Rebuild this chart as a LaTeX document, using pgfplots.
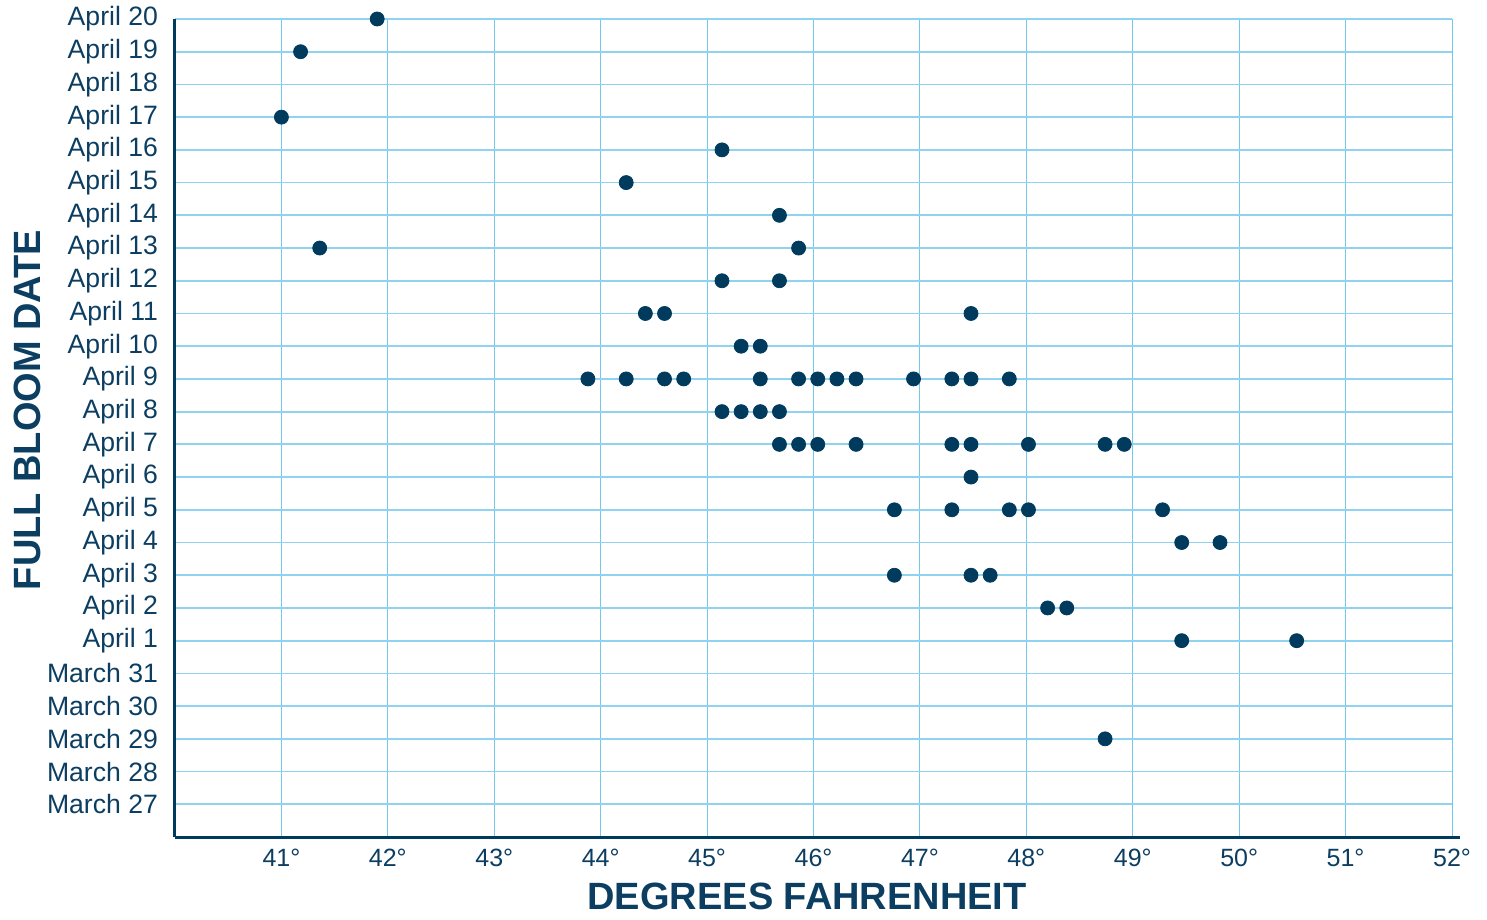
\documentclass[border=0pt]{standalone}
\usepackage{pgfplots}
\pgfplotsset{compat=1.18}
\usepackage{fontspec}
\setmainfont{Liberation Sans}
\definecolor{navy}{RGB}{0,58,93}
\definecolor{txt}{RGB}{12,62,98}
\definecolor{gridblue}{RGB}{115,200,236}
\begin{document}
\begin{tikzpicture}
\begin{axis}[
  name=ax,
  scale only axis,
  width=638.5pt, height=409pt,
  xmin=40, xmax=52, ymin=0, ymax=25,
  axis x line=bottom, axis y line=left,
  axis line style={navy, line width=1.5pt, -},
  x axis line style={shorten >=-4pt},
  xtick={41,...,52},
  xticklabels={41°,42°,43°,44°,45°,46°,47°,48°,49°,50°,51°,52°},
  ytick={1,...,25},
  yticklabels={March 27,March 28,March 29,March 30,March 31,April 1,April 2,April 3,April 4,April 5,April 6,April 7,April 8,April 9,April 10,April 11,April 12,April 13,April 14,April 15,April 16,April 17,April 18,April 19,April 20},
  major tick length=0pt,
  xticklabel style={font=\fontsize{12.5}{14}\selectfont, text=txt, yshift=-2.5pt},
  yticklabel style={font=\fontsize{13.3}{15}\selectfont, text=txt, xshift=-5pt},
  xmajorgrids, ymajorgrids,
  x grid style={gridblue, line width=0.5pt},
  y grid style={gridblue!80, line width=0.9pt},
  xlabel={DEGREES FAHRENHEIT},
  ylabel={FULL BLOOM DATE},
  label style={font=\fontsize{19}{22}\selectfont\bfseries, text=txt},
  xlabel style={at={(axis description cs:0.495,-0.089)}, anchor=base, inner sep=0pt},
  ylabel style={at={(axis description cs:-0.1159,0.522)}, anchor=center},
  clip=false,
]
\addplot[only marks, mark=*, mark size=3.5pt, navy, mark options={draw=navy, fill=navy}] coordinates {
(41.9,25)
(41.18,24)
(41.0,22)
(45.14,21)
(44.24,20)
(45.68,19)
(41.36,18) (45.86,18)
(45.14,17) (45.68,17)
(44.42,16) (44.6,16) (47.48,16)
(45.32,15) (45.5,15)
(43.88,14) (44.24,14) (44.6,14) (44.78,14) (45.5,14) (45.86,14) (46.04,14) (46.22,14) (46.4,14) (46.94,14) (47.3,14) (47.48,14) (47.84,14)
(45.14,13) (45.32,13) (45.5,13) (45.68,13)
(45.68,12) (45.86,12) (46.04,12) (46.4,12) (47.3,12) (47.48,12) (48.02,12) (48.74,12) (48.92,12)
(47.48,11)
(46.76,10) (47.3,10) (47.84,10) (48.02,10) (49.28,10)
(49.46,9) (49.82,9)
(46.76,8) (47.48,8) (47.66,8)
(48.2,7) (48.38,7)
(49.46,6) (50.54,6)
(48.74,3)
};
\end{axis}
\pgfresetboundingbox
\path[use as bounding box] ([xshift=-87.5pt,yshift=-41.5pt]ax.south west) rectangle ([xshift=17.5pt,yshift=9.5pt]ax.north east);
\end{tikzpicture}
\end{document}
